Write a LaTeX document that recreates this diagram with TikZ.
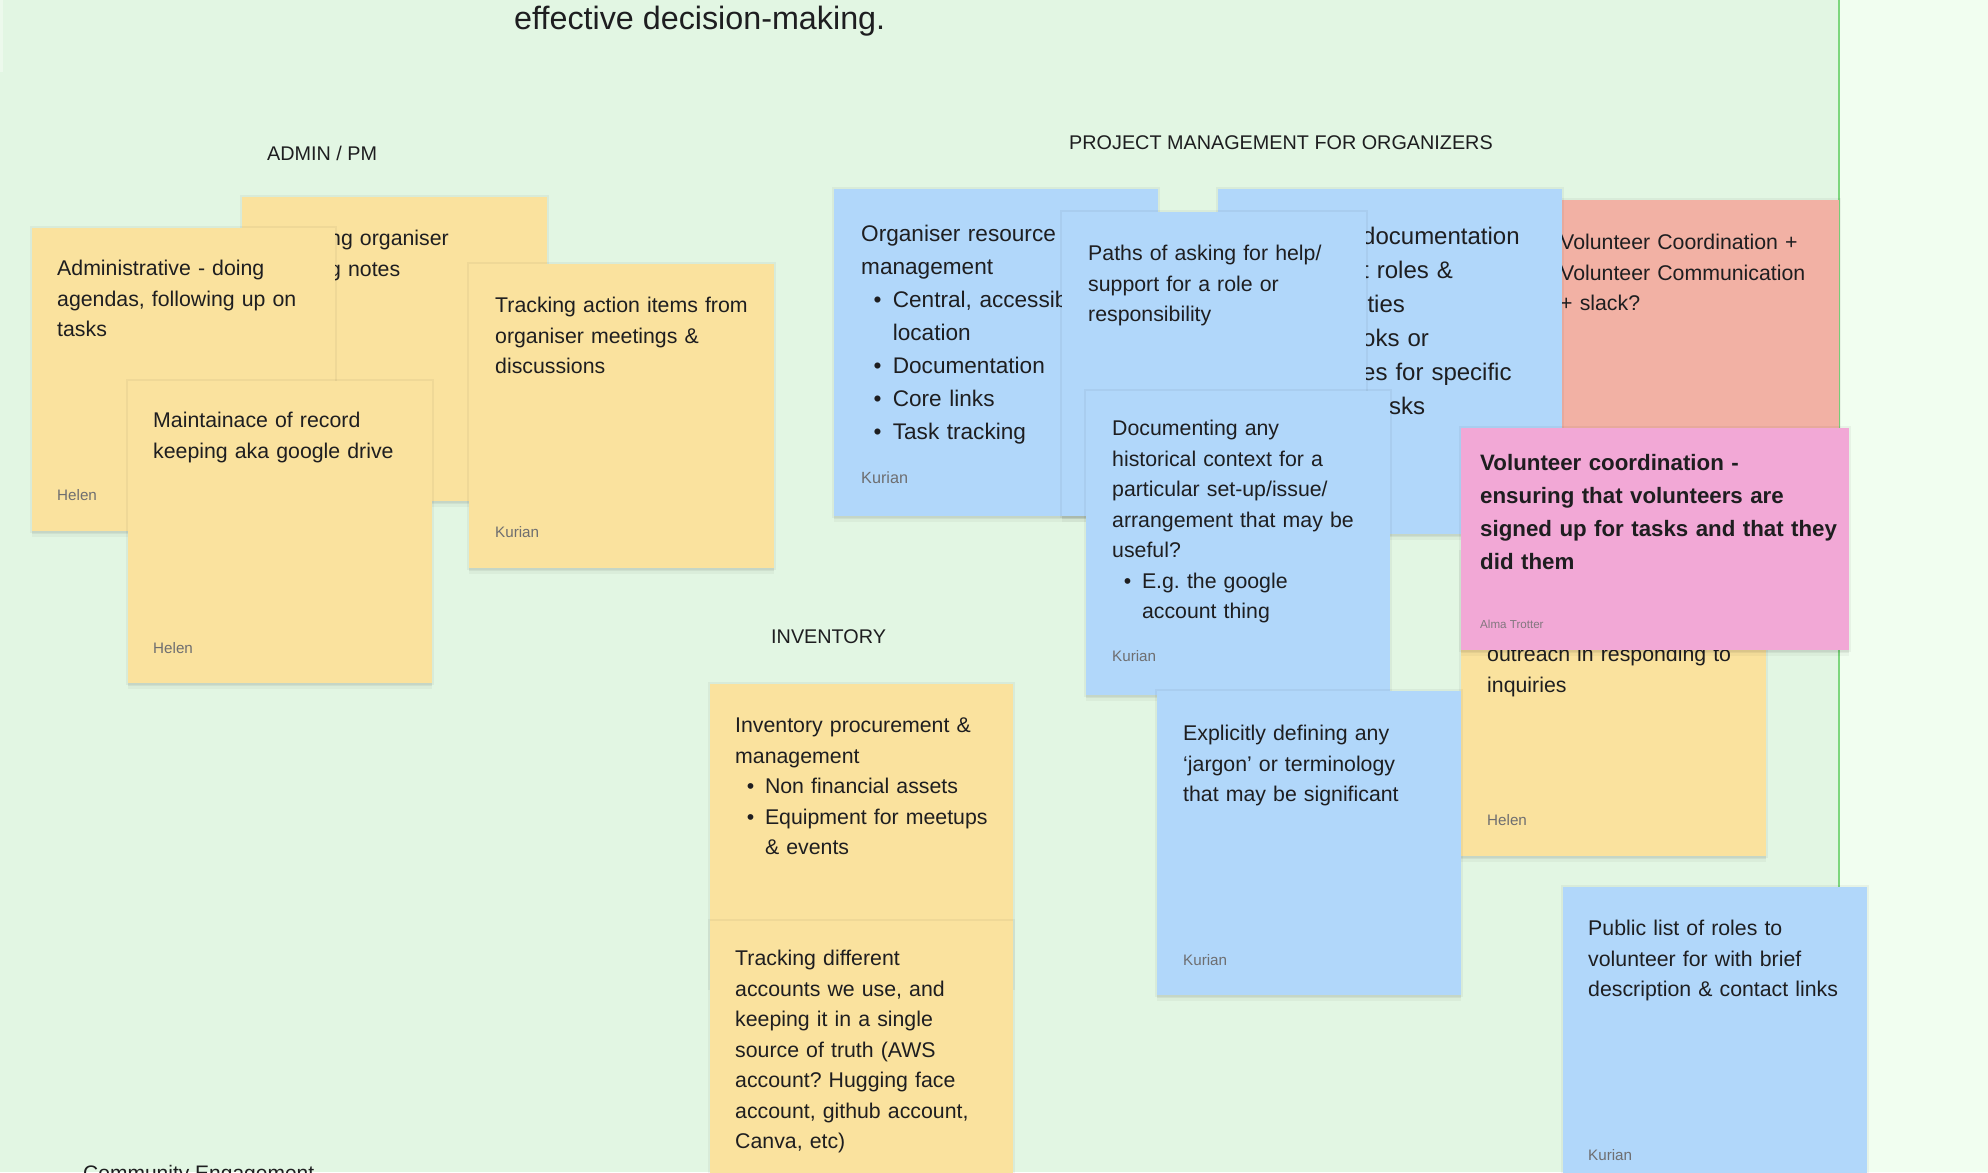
\documentclass[tikz,border=0pt]{standalone}
\usepackage{fontspec}
\setmainfont{Liberation Sans}
\usetikzlibrary{calc}
\frenchspacing

\definecolor{bgC}   {RGB}{226, 246, 227}
\definecolor{bgRC}  {RGB}{241, 254, 240}
\definecolor{lineC} {RGB}{125, 214, 125}
\definecolor{yelC}  {RGB}{250, 226, 158}
\definecolor{bluC}  {RGB}{177, 215, 250}
\definecolor{salC}  {RGB}{242, 177, 164}
\definecolor{pnkC}  {RGB}{242, 168, 214}
\definecolor{inkC}  {RGB}{ 30,  30,  32}
\definecolor{authC} {RGB}{110, 110, 112}

% font sizes (1pt = 1px of the board)
\newcommand{\yfont}{\fontsize{21.3}{30.5}\selectfont}
\newcommand{\efont}{\fontsize{22.6}{33}\selectfont}
\newcommand{\gfont}{\fontsize{24}{34}\selectfont}
\newcommand{\jfont}{\fontsize{22.3}{33}\selectfont\bfseries}
\newcommand{\afont}{\fontsize{15.2}{18}\selectfont}
\newcommand{\hfont}{\fontsize{19.8}{24}\selectfont}

% bullet line and its continuation indent
\newcommand{\nbul}{\hspace*{0.55em}\makebox[0.85em][l]{\textbullet}}
\newcommand{\nind}{\hspace*{1.4em}}

\tikzset{
  note/.style = {rectangle, anchor=north west, inner sep=0pt, fill=#1,
                 preaction={draw=black, opacity=0.045, line width=4pt},
                 preaction={fill=black, opacity=0.035,
                            transform canvas={yshift=-6pt}},
                 preaction={fill=black, opacity=0.05,
                            transform canvas={yshift=-3pt}}},
  txt/.style  = {anchor=north west, inner sep=0pt, text width=360pt,
                 align=left, text=inkC, font=\yfont},
  auth/.style = {anchor=base west, inner sep=0pt, text=authC, font=\afont},
  head/.style = {anchor=base west, inner sep=0pt, text=inkC, font=\hfont},
}

\begin{document}
\begin{tikzpicture}[x=1pt, y=-1pt]
\useasboundingbox (0,0) rectangle (1988,1172);

% ============================================================
%  Board background
% ============================================================
\fill[bgC]  (0,0) rectangle (1839,1172);
\fill[bgRC] (1839,0) rectangle (1988,1172);
\fill[white, opacity=0.35] (0,0) rectangle (3,72);
\draw[lineC, line width=2.5pt] (1839,0) -- (1839,1172);

% --- Title and section headings ---
\node[anchor=base west, inner sep=0pt, text=inkC,
      font=\fontsize{32.3}{38}\selectfont] (ttl) at (514,29.6)
  {effective decision-making.};
\node[head] (hadm) at (267,160)  {ADMIN / PM};
\node[head] (hpm)  at (1069,149) {PROJECT MANAGEMENT FOR ORGANIZERS};
\node[head] (hinv) at (771,643)  {INVENTORY};
\node[head, font=\fontsize{21}{24}\selectfont] (hcom) at (83,1180)
  {Community Engagement};

% ============================================================
%  ADMIN / PM notes
% ============================================================
\node[note=yelC, minimum width=305pt, minimum height=304pt] (trk) at (242,197) {};
\node[txt] (trktx) at ($(trk.north west)+(87,27.3)$)
  {\strut ng organiser\\g notes};

\node[note=yelC, minimum width=303pt, minimum height=303pt] (adm) at (32,228) {};
\node[txt] (admtx) at ($(adm.north west)+(25,26.3)$)
  {\strut Administrative - doing\\agendas, following up on\\tasks};
\node[auth] (admau) at ($(adm.south west)+(25,-31)$) {Helen};

\node[note=yelC, minimum width=304pt, minimum height=302pt] (rec) at (128,381) {};
\node[txt] (rectx) at ($(rec.north west)+(25,25.3)$)
  {\strut Maintainace of record\\keeping aka google drive};
\node[auth] (recau) at ($(rec.south west)+(25,-30)$) {Helen};

\node[note=yelC, minimum width=305pt, minimum height=304pt] (act) at (469,264) {};
\node[txt] (acttx) at ($(act.north west)+(26,27.3)$)
  {\strut Tracking action items from\\organiser meetings \&\\discussions};
\node[auth] (actau) at ($(act.south west)+(26,-31)$) {Kurian};

% ============================================================
%  PROJECT MANAGEMENT notes
% ============================================================
\node[note=bluC, minimum width=324pt, minimum height=327pt] (res) at (834,189) {};
\node[txt, font=\efont] (restx) at ($(res.north west)+(27,29)$)
  {\strut Organiser resource\\management\\
   \nbul Central, accessible\\\nind location\\
   \nbul Documentation\\\nbul Core links\\\nbul Task tracking};
\node[auth, font=\fontsize{16.2}{19}\selectfont] (resau)
  at ($(res.south west)+(27,-33)$) {Kurian};

\node[note=salC, minimum width=304pt, minimum height=304pt] (vol) at (1535,200) {};
\node[txt] (voltx) at ($(vol.north west)+(25,28.3)$)
  {\strut Volunteer Coordination +\\Volunteer Communication\\+ slack?};

\node[note=bluC, minimum width=344pt, minimum height=345pt] (doc) at (1218,189) {};
\node[txt, font=\gfont] (doctx) at ($(doc.north west)+(144,31.8)$)
  {\strut documentation\\t roles \&\\ities\\oks or\\es for specific\\
   \hspace*{7pt}tasks};

\node[note=bluC, minimum width=304pt, minimum height=304pt] (pth) at (1062,212) {};
\node[txt] (pthtx) at ($(pth.north west)+(26,27.3)$)
  {\strut Paths of asking for help/\\support for a role or\\responsibility};

\node[note=bluC, minimum width=304pt, minimum height=304pt] (hist) at (1086,391) {};
\node[txt] (histx) at ($(hist.north west)+(26,23.3)$)
  {\strut Documenting any\\historical context for a\\particular set-up/issue/\\
   arrangement that may be\\useful?\\
   \nbul E.g. the google\\\nind account thing};
\node[auth] (histau) at ($(hist.south west)+(26,-34)$) {Kurian};

\node[note=yelC, minimum width=305pt, minimum height=304pt] (outr) at (1461,552) {};
\node[txt] (outrtx) at ($(outr.north west)+(26,88.3)$)
  {\strut outreach in responding to\\inquiries};
\node[auth] (outrau) at ($(outr.south west)+(26,-31)$) {Helen};

\node[note=pnkC, minimum width=388pt, minimum height=222pt] (crd) at (1461,428) {};
\node[txt, font=\jfont] (crdtx) at ($(crd.north west)+(19,18.9)$)
  {\strut Volunteer coordination -\\ensuring that volunteers are\\
   signed up for tasks and that they\\did them};
\node[auth, font=\fontsize{11.6}{14}\selectfont, text=authC!85!pnkC] (crdau)
  at ($(crd.south west)+(19,-22)$) {Alma Trotter};

\node[note=bluC, minimum width=304pt, minimum height=304pt] (jar) at (1157,691) {};
\node[txt] (jartx) at ($(jar.north west)+(26,28.3)$)
  {\strut Explicitly defining any\\`jargon' or terminology\\that may be significant};
\node[auth] (jarau) at ($(jar.south west)+(26,-30)$) {Kurian};

\node[note=bluC, minimum width=304pt, minimum height=304pt] (pub) at (1563,887) {};
\node[txt] (pubtx) at ($(pub.north west)+(25,27.3)$)
  {\strut Public list of roles to\\volunteer for with brief\\description \& contact links};
\node[auth] (pubau) at ($(pub.south west)+(25,-31)$) {Kurian};

% ============================================================
%  INVENTORY notes
% ============================================================
\node[note=yelC, minimum width=303pt, minimum height=304pt] (inv) at (710,684) {};
\node[txt] (invtx) at ($(inv.north west)+(25,27.3)$)
  {\strut Inventory procurement \&\\management\\
   \nbul Non financial assets\\\nbul Equipment for meetups\\\nind \& events};

\node[note=yelC, minimum width=303pt, minimum height=304pt] (acc) at (710,921) {};
\node[txt] (acctx) at ($(acc.north west)+(25,23.3)$)
  {\strut Tracking different\\accounts we use, and\\keeping it in a single\\
   source of truth (AWS\\account? Hugging face\\account, github account,\\
   Canva, etc)};

\end{tikzpicture}
\end{document}
